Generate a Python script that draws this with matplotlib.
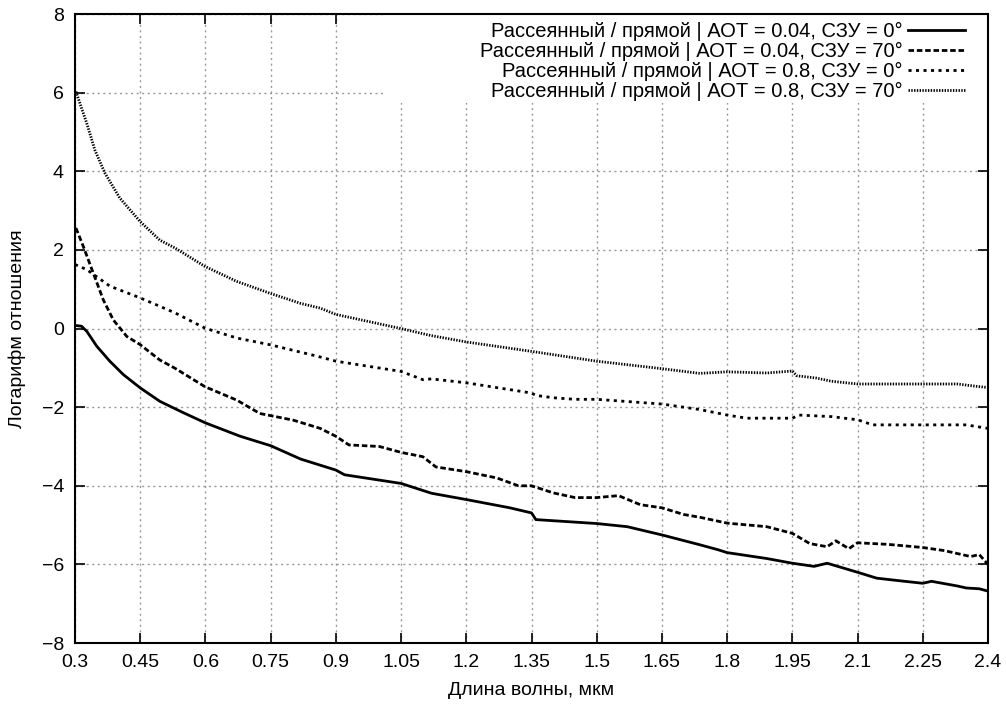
import numpy as np
import matplotlib.pyplot as plt
from matplotlib.patches import Rectangle

plt.rcParams['font.family'] = ['Liberation Sans', 'DejaVu Sans']

# AOT = 0.04, SZA = 0
wl_a = [0.300, 0.315, 0.327, 0.350, 0.380, 0.411, 0.450, 0.495, 0.549, 0.600, 0.680,
        0.750, 0.819, 0.900, 0.920, 1.050, 1.120, 1.200, 1.300, 1.350, 1.360, 1.500,
        1.570, 1.650, 1.737, 1.780, 1.800, 1.891, 1.950, 2.000, 2.030, 2.100, 2.144,
        2.200, 2.250, 2.270, 2.330, 2.350, 2.380, 2.400]
val_a = [0.08, 0.06, -0.07, -0.45, -0.83, -1.17, -1.51, -1.85, -2.14, -2.40, -2.74,
         -2.98, -3.32, -3.60, -3.72, -3.94, -4.19, -4.35, -4.56, -4.69, -4.86, -4.96,
         -5.04, -5.25, -5.50, -5.63, -5.70, -5.85, -5.97, -6.05, -5.97, -6.20, -6.35,
         -6.42, -6.48, -6.43, -6.55, -6.60, -6.62, -6.68]

# AOT = 0.04, SZA = 70
wl_b = [0.302, 0.319, 0.342, 0.365, 0.388, 0.419, 0.450, 0.495, 0.530, 0.599, 0.672,
        0.725, 0.802, 0.864, 0.900, 0.930, 1.000, 1.050, 1.100, 1.130, 1.200, 1.270,
        1.320, 1.350, 1.400, 1.450, 1.500, 1.550, 1.600, 1.650, 1.700, 1.737, 1.800,
        1.891, 1.950, 1.990, 2.030, 2.050, 2.080, 2.100, 2.170, 2.250, 2.300, 2.360,
        2.380, 2.400]
val_b = [2.56, 2.09, 1.41, 0.73, 0.22, -0.20, -0.41, -0.80, -1.01, -1.48, -1.82,
         -2.16, -2.33, -2.54, -2.74, -2.96, -3.00, -3.15, -3.26, -3.52, -3.64, -3.80,
         -4.00, -4.00, -4.18, -4.30, -4.30, -4.25, -4.48, -4.56, -4.73, -4.80, -4.95,
         -5.04, -5.21, -5.47, -5.55, -5.40, -5.60, -5.45, -5.49, -5.57, -5.65, -5.80,
         -5.75, -6.00]

# AOT = 0.8, SZA = 0
wl_c = [0.300, 0.327, 0.380, 0.450, 0.530, 0.599, 0.672, 0.748, 0.856, 0.900, 1.050,
        1.100, 1.120, 1.200, 1.350, 1.360, 1.400, 1.450, 1.500, 1.650, 1.737, 1.800,
        1.845, 1.950, 1.965, 2.040, 2.100, 2.135, 2.250, 2.350, 2.400]
val_c = [1.63, 1.50, 1.08, 0.78, 0.40, 0.01, -0.24, -0.41, -0.70, -0.83, -1.09,
         -1.30, -1.28, -1.38, -1.64, -1.70, -1.76, -1.80, -1.80, -1.92, -2.06, -2.20,
         -2.28, -2.28, -2.20, -2.24, -2.32, -2.45, -2.45, -2.45, -2.54]

# AOT = 0.8, SZA = 70
wl_d = [0.302, 0.327, 0.346, 0.369, 0.403, 0.450, 0.495, 0.530, 0.599, 0.672, 0.748,
        0.819, 0.864, 0.900, 1.050, 1.100, 1.120, 1.200, 1.350, 1.500, 1.650, 1.737,
        1.800, 1.891, 1.950, 1.960, 2.006, 2.040, 2.100, 2.190, 2.250, 2.330, 2.374,
        2.400]
val_d = [6.03, 5.22, 4.53, 3.95, 3.32, 2.72, 2.25, 2.05, 1.58, 1.20, 0.90,
         0.64, 0.52, 0.36, 0.00, -0.13, -0.18, -0.34, -0.58, -0.83, -1.02, -1.14,
         -1.10, -1.13, -1.08, -1.20, -1.26, -1.34, -1.41, -1.41, -1.41, -1.41, -1.47,
         -1.50]

labels = ["Рассеянный / прямой | АОТ = 0.04, СЗУ = 0°",
          "Рассеянный / прямой | АОТ = 0.04, СЗУ = 70°",
          "Рассеянный / прямой | АОТ = 0.8, СЗУ = 0°",
          "Рассеянный / прямой | АОТ = 0.8, СЗУ = 70°"]

xticks = [0.3, 0.45, 0.6, 0.75, 0.9, 1.05, 1.2, 1.35, 1.5, 1.65, 1.8, 1.95, 2.1, 2.25, 2.4]
xticklabels = ["0.3", "0.45", "0.6", "0.75", "0.9", "1.05", "1.2", "1.35", "1.5",
               "1.65", "1.8", "1.95", "2.1", "2.25", "2.4"]
yticks = [-8, -6, -4, -2, 0, 2, 4, 6, 8]

fig = plt.figure(figsize=(10.06, 7.07), dpi=100)
ax = fig.add_axes([0.0746, 0.0905, 0.9075, 0.8895])

ax.plot(wl_a, val_a, color='black', lw=2.0, linestyle='-', label=labels[0], zorder=4)
ax.plot(wl_b, val_b, color='black', lw=2.0, linestyle=(0, (2.0, 1.0)), label=labels[1], zorder=4)
ax.plot(wl_c, val_c, color='black', lw=2.0, linestyle=(0, (1.1, 1.6)), label=labels[2], zorder=4)
ax.plot(wl_d, val_d, color='black', lw=2.0, linestyle=(0, (0.5, 0.5)), label=labels[3], zorder=4)

ax.set_xlim(0.3, 2.4)
ax.set_ylim(-8, 8)
ax.set_xticks(xticks)
ax.set_xticklabels(xticklabels)
ax.set_yticks(yticks)
ax.tick_params(direction='in', length=7, width=1.2, labelsize=14,
               top=True, right=True, pad=8)
ax.grid(True, color='#999999', linestyle=(0, (1.5, 2.5)), linewidth=1.0)
for s in ax.spines.values():
    s.set_linewidth(1.5)

# white key area like gnuplot
ax.add_patch(Rectangle((0.337, 0.858), 0.663, 0.142, transform=ax.transAxes,
                       facecolor='white', edgecolor='none', zorder=2.5))

leg = ax.legend(loc='upper right', bbox_to_anchor=(0.9836, 1.0), markerfirst=False,
                frameon=False, fontsize=14.5, handlelength=2.84, handletextpad=0.25,
                labelspacing=0.05, borderaxespad=0.2, borderpad=0.2)
leg.set_zorder(5)

ax.set_xlabel("Длина волны, мкм", fontsize=14, labelpad=8)
ax.set_ylabel("Логарифм отношения", fontsize=14, labelpad=11)

fig.savefig("out.png", dpi=100)
